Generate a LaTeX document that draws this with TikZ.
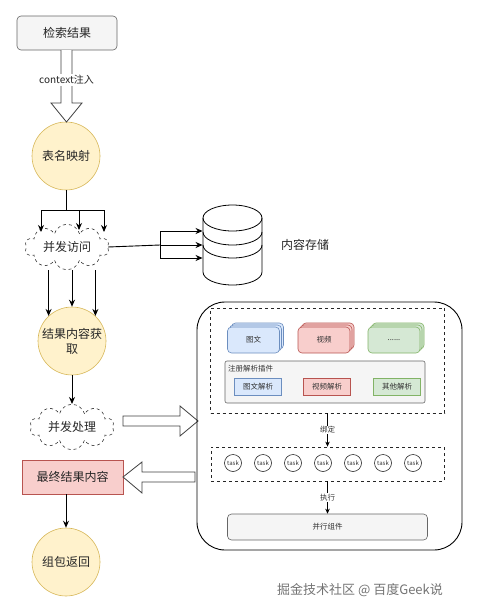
\documentclass[tikz,border=0pt]{standalone}
\usepackage{fontspec}
\setmainfont{Noto Sans CJK SC}
\usepackage{tikz}
\usetikzlibrary{shapes.symbols,shadows,arrows.meta}

\definecolor{yfill}{HTML}{FFF2CC}
\definecolor{ydraw}{HTML}{D6B656}
\definecolor{rfill}{HTML}{F8CECC}
\definecolor{rdraw}{HTML}{B85450}
\definecolor{bfill}{HTML}{DAE8FC}
\definecolor{bdraw}{HTML}{6C8EBF}
\definecolor{gnfill}{HTML}{D5E8D4}
\definecolor{gndraw}{HTML}{82B366}
\definecolor{gfill}{HTML}{F5F5F5}
\definecolor{gdraw}{HTML}{666666}

\begin{document}
\begin{tikzpicture}[x=1pt,y=1pt,line width=0.9pt,>={Stealth[length=7pt,width=6pt]}]
    \tikzstyle{big}=[text=black!85,font=\fontsize{12}{15}\selectfont]
    \tikzstyle{small}=[text=black!80,font=\fontsize{7.5}{9}\selectfont]
    \tikzstyle{yellow circle}=[big,circle,draw=ydraw,fill=yfill,minimum size=68pt,inner sep=0pt,line width=0.6pt]
    \tikzstyle{gray box}=[rectangle,rounded corners=4pt,draw=gdraw,fill=gfill,line width=0.6pt]
    \tikzstyle{flow cloud}=[big,cloud,cloud puffs=10,aspect=2.2,draw=black!80,dashed,minimum width=84pt,minimum height=39pt,inner sep=0pt,line width=0.6pt]
    \tikzstyle{hollow}=[draw=black!75,fill=white,line width=0.8pt]
    \tikzstyle{arr}=[->,draw=black,line width=0.9pt]
    \tikzstyle{arr small}=[-{Stealth[length=5pt,width=4.5pt]},draw=black,line width=0.7pt]
    \tikzstyle{card}=[small,rectangle,rounded corners=4pt,minimum width=52pt,minimum height=26pt,line width=0.6pt,double copy shadow={shadow xshift=2pt,shadow yshift=2pt}]
    \tikzstyle{plugin}=[small,rectangle,minimum width=47pt,minimum height=17pt,line width=0.6pt]
    \tikzstyle{dash box}=[rectangle,draw=black!85,dashed,line width=0.8pt]
    \tikzstyle{task}=[circle,draw=black!85,minimum size=17pt,inner sep=0pt,line width=0.6pt,text=black!80,font=\fontsize{6}{7}\selectfont]

    \useasboundingbox (0,0) rectangle (478,-613);

    % Left column
    \node[gray box,big,minimum width=100pt,minimum height=34pt] (search) at (67,-33) {检索结果};
    \node[yellow circle] (map) at (66,-156) {表名映射};
    \node[flow cloud] (access) at (67,-247) {并发访问};
    \node[yellow circle,align=center] (fetch) at (72,-341) {结果内容获\\取};
    \node[flow cloud] (proc) at (72,-427) {并发处理};
    \node[big,rectangle,draw=rdraw,fill=rfill,minimum width=101pt,minimum height=34pt,line width=0.6pt] (final) at (72.5,-477) {最终结果内容};
    \node[yellow circle] (ret) at (66,-562) {组包返回};

    % context injection arrow
    \draw[hollow] (61,-50) -- (61,-103) -- (51,-103) -- (66.5,-122) -- (82,-103) -- (72,-103) -- (72,-50);
    \node[big,fill=white,inner sep=1pt,font=\fontsize{10}{12}\selectfont] (ctx) at (66.5,-80) {context注入};

    % Fan out to concurrent access
    \coordinate (fork) at (66,-210);
    \coordinate (in1) at (41,-232);
    \coordinate (in2) at (79,-230);
    \coordinate (in3) at (104,-232);
    \draw (map) -- (fork);
    \foreach \c in {in1,in2,in3}
        \draw[arr] (fork) -| (\c);

    % Content store
    \node[minimum width=59pt,minimum height=80pt,inner sep=0pt] (store) at (232.5,-245) {};
    \draw[line width=0.8pt,fill=white] (203,-218) -- (203,-272) arc[start angle=180,end angle=360,x radius=29.5pt,y radius=13pt]
        -- (262,-218) arc[start angle=0,end angle=180,x radius=29.5pt,y radius=13pt] -- cycle;
    \foreach \y in {-218,-232,-245}
        \draw[line width=0.8pt] (203,\y) arc[start angle=180,end angle=360,x radius=29.5pt,y radius=13pt];
    \node[big] (storelabel) at (305,-245) {内容存储};

    \coordinate (hub) at (160,-245);
    \draw (access.east) -- (hub);
    \draw[arr] (hub) |- ([yshift=14pt]store.west);
    \draw[arr] (hub) -- (store.west);
    \draw[arr] (hub) |- ([yshift=-13pt]store.west);

    % Results fetched
    \foreach \a in {133,90,47}
        \draw[arr] (fetch.\a |- access.south) -- (fetch.\a);
    \draw[arr] (fetch) -- (proc);
    \draw[arr] (ret.north |- final.south) -- (ret.north);

    % Hand over and back
    \draw[hollow] (123,-416) -- (180,-416) -- (180,-406) -- (198,-421) -- (180,-436) -- (180,-426) -- (123,-426) -- cycle;
    \draw[hollow] (195,-472) -- (142,-472) -- (142,-462) -- (123,-477) -- (142,-493) -- (142,-482) -- (195,-482) -- cycle;

    % Right frame
    \node[rectangle,draw=black,rounded corners=28pt,minimum width=265pt,minimum height=248pt,line width=0.9pt] (frame) at (329.5,-426) {};
    \node[dash box,minimum width=234pt,minimum height=105pt] (plug) at (327.5,-360.5) {};
    \node[card,draw=bdraw,fill=bfill] (c-text) at (253.5,-340) {图文};
    \node[card,draw=rdraw,fill=rfill] (c-video) at (324,-340) {视频};
    \node[card,draw=gndraw,fill=gnfill] (c-other) at (394,-340) {......};
    \node[gray box,rounded corners=2pt,minimum width=200pt,minimum height=42pt] (reg) at (325,-382) {};
    \node[small,anchor=north west,inner sep=1pt] (reglabel) at ([xshift=2pt,yshift=-3pt]reg.north west) {注册解析插件};
    \node[plugin,draw=bdraw,fill=bfill] (p-text) at (258,-386.5) {图文解析};
    \node[plugin,draw=rdraw,fill=rfill] (p-video) at (327,-386.5) {视频解析};
    \node[plugin,draw=gndraw,fill=gnfill] (p-other) at (397,-386.5) {其他解析};

    \node[dash box,minimum width=233pt,minimum height=34pt] (pool) at (327.5,-464) {};
    \foreach \i in {0,...,6}
        \node[task] (t\i) at (233+30*\i,-463) {task};
    \node[gray box,small,minimum width=200pt,minimum height=26pt] (exec) at (327.5,-527) {并行组件};

    \draw[arr small] (plug.south) -- node[small,fill=white,inner sep=1pt] {绑定} (pool.north);
    \draw[arr small] (pool.south) -- node[small,fill=white,inner sep=1pt] {执行} (exec.north);

    % Watermark
    \node[text=black!55,font=\fontsize{13}{15}\selectfont] (mark) at (360,-590) {掘金技术社区 @ 百度Geek说};
\end{tikzpicture}
\end{document}
